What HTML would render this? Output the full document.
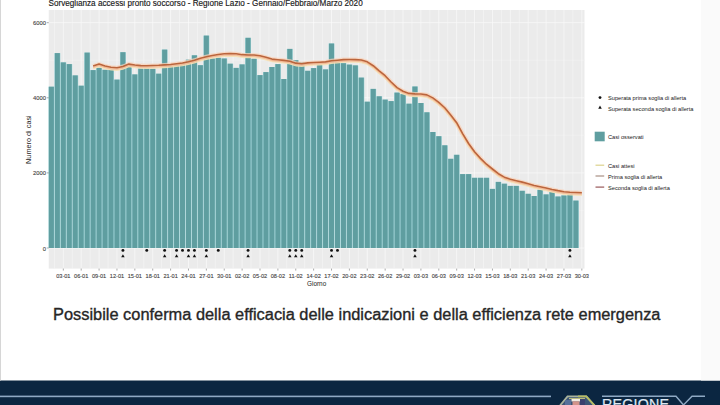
<!DOCTYPE html>
<html><head><meta charset="utf-8"><style>
html,body{margin:0;padding:0;background:#ffffff;}
body{width:720px;height:405px;overflow:hidden;}
svg{display:block;font-family:"Liberation Sans",sans-serif;}
</style></head><body>
<svg width="720" height="405" viewBox="0 0 720 405">
<rect x="48.72" y="10.0" width="535.80" height="258.60" fill="#ebebeb"/>
<line x1="48.72" x2="584.52" y1="210.45" y2="210.45" stroke="#f4f4f4" stroke-width="0.4"/>
<line x1="48.72" x2="584.52" y1="135.35" y2="135.35" stroke="#f4f4f4" stroke-width="0.4"/>
<line x1="48.72" x2="584.52" y1="60.25" y2="60.25" stroke="#f4f4f4" stroke-width="0.4"/>
<line x1="48.72" x2="584.52" y1="248.00" y2="248.00" stroke="#fafafa" stroke-width="0.7"/>
<line x1="48.72" x2="584.52" y1="172.90" y2="172.90" stroke="#fafafa" stroke-width="0.7"/>
<line x1="48.72" x2="584.52" y1="97.80" y2="97.80" stroke="#fafafa" stroke-width="0.7"/>
<line x1="48.72" x2="584.52" y1="22.70" y2="22.70" stroke="#fafafa" stroke-width="0.7"/>
<line y1="10.0" y2="268.6" x1="54.38" x2="54.38" stroke="#f7f7f7" stroke-width="0.6"/>
<line y1="10.0" y2="268.6" x1="72.26" x2="72.26" stroke="#f7f7f7" stroke-width="0.6"/>
<line y1="10.0" y2="268.6" x1="90.14" x2="90.14" stroke="#f7f7f7" stroke-width="0.6"/>
<line y1="10.0" y2="268.6" x1="108.02" x2="108.02" stroke="#f7f7f7" stroke-width="0.6"/>
<line y1="10.0" y2="268.6" x1="125.90" x2="125.90" stroke="#f7f7f7" stroke-width="0.6"/>
<line y1="10.0" y2="268.6" x1="143.78" x2="143.78" stroke="#f7f7f7" stroke-width="0.6"/>
<line y1="10.0" y2="268.6" x1="161.66" x2="161.66" stroke="#f7f7f7" stroke-width="0.6"/>
<line y1="10.0" y2="268.6" x1="179.54" x2="179.54" stroke="#f7f7f7" stroke-width="0.6"/>
<line y1="10.0" y2="268.6" x1="197.42" x2="197.42" stroke="#f7f7f7" stroke-width="0.6"/>
<line y1="10.0" y2="268.6" x1="215.30" x2="215.30" stroke="#f7f7f7" stroke-width="0.6"/>
<line y1="10.0" y2="268.6" x1="233.18" x2="233.18" stroke="#f7f7f7" stroke-width="0.6"/>
<line y1="10.0" y2="268.6" x1="251.06" x2="251.06" stroke="#f7f7f7" stroke-width="0.6"/>
<line y1="10.0" y2="268.6" x1="268.94" x2="268.94" stroke="#f7f7f7" stroke-width="0.6"/>
<line y1="10.0" y2="268.6" x1="286.82" x2="286.82" stroke="#f7f7f7" stroke-width="0.6"/>
<line y1="10.0" y2="268.6" x1="304.70" x2="304.70" stroke="#f7f7f7" stroke-width="0.6"/>
<line y1="10.0" y2="268.6" x1="322.58" x2="322.58" stroke="#f7f7f7" stroke-width="0.6"/>
<line y1="10.0" y2="268.6" x1="340.46" x2="340.46" stroke="#f7f7f7" stroke-width="0.6"/>
<line y1="10.0" y2="268.6" x1="358.34" x2="358.34" stroke="#f7f7f7" stroke-width="0.6"/>
<line y1="10.0" y2="268.6" x1="376.22" x2="376.22" stroke="#f7f7f7" stroke-width="0.6"/>
<line y1="10.0" y2="268.6" x1="394.10" x2="394.10" stroke="#f7f7f7" stroke-width="0.6"/>
<line y1="10.0" y2="268.6" x1="411.98" x2="411.98" stroke="#f7f7f7" stroke-width="0.6"/>
<line y1="10.0" y2="268.6" x1="429.86" x2="429.86" stroke="#f7f7f7" stroke-width="0.6"/>
<line y1="10.0" y2="268.6" x1="447.74" x2="447.74" stroke="#f7f7f7" stroke-width="0.6"/>
<line y1="10.0" y2="268.6" x1="465.62" x2="465.62" stroke="#f7f7f7" stroke-width="0.6"/>
<line y1="10.0" y2="268.6" x1="483.50" x2="483.50" stroke="#f7f7f7" stroke-width="0.6"/>
<line y1="10.0" y2="268.6" x1="501.38" x2="501.38" stroke="#f7f7f7" stroke-width="0.6"/>
<line y1="10.0" y2="268.6" x1="519.26" x2="519.26" stroke="#f7f7f7" stroke-width="0.6"/>
<line y1="10.0" y2="268.6" x1="537.14" x2="537.14" stroke="#f7f7f7" stroke-width="0.6"/>
<line y1="10.0" y2="268.6" x1="555.02" x2="555.02" stroke="#f7f7f7" stroke-width="0.6"/>
<line y1="10.0" y2="268.6" x1="572.90" x2="572.90" stroke="#f7f7f7" stroke-width="0.6"/>
<line y1="10.0" y2="268.6" x1="63.32" x2="63.32" stroke="#fafafa" stroke-width="0.7"/>
<line y1="10.0" y2="268.6" x1="81.20" x2="81.20" stroke="#fafafa" stroke-width="0.7"/>
<line y1="10.0" y2="268.6" x1="99.08" x2="99.08" stroke="#fafafa" stroke-width="0.7"/>
<line y1="10.0" y2="268.6" x1="116.96" x2="116.96" stroke="#fafafa" stroke-width="0.7"/>
<line y1="10.0" y2="268.6" x1="134.84" x2="134.84" stroke="#fafafa" stroke-width="0.7"/>
<line y1="10.0" y2="268.6" x1="152.72" x2="152.72" stroke="#fafafa" stroke-width="0.7"/>
<line y1="10.0" y2="268.6" x1="170.60" x2="170.60" stroke="#fafafa" stroke-width="0.7"/>
<line y1="10.0" y2="268.6" x1="188.48" x2="188.48" stroke="#fafafa" stroke-width="0.7"/>
<line y1="10.0" y2="268.6" x1="206.36" x2="206.36" stroke="#fafafa" stroke-width="0.7"/>
<line y1="10.0" y2="268.6" x1="224.24" x2="224.24" stroke="#fafafa" stroke-width="0.7"/>
<line y1="10.0" y2="268.6" x1="242.12" x2="242.12" stroke="#fafafa" stroke-width="0.7"/>
<line y1="10.0" y2="268.6" x1="260.00" x2="260.00" stroke="#fafafa" stroke-width="0.7"/>
<line y1="10.0" y2="268.6" x1="277.88" x2="277.88" stroke="#fafafa" stroke-width="0.7"/>
<line y1="10.0" y2="268.6" x1="295.76" x2="295.76" stroke="#fafafa" stroke-width="0.7"/>
<line y1="10.0" y2="268.6" x1="313.64" x2="313.64" stroke="#fafafa" stroke-width="0.7"/>
<line y1="10.0" y2="268.6" x1="331.52" x2="331.52" stroke="#fafafa" stroke-width="0.7"/>
<line y1="10.0" y2="268.6" x1="349.40" x2="349.40" stroke="#fafafa" stroke-width="0.7"/>
<line y1="10.0" y2="268.6" x1="367.28" x2="367.28" stroke="#fafafa" stroke-width="0.7"/>
<line y1="10.0" y2="268.6" x1="385.16" x2="385.16" stroke="#fafafa" stroke-width="0.7"/>
<line y1="10.0" y2="268.6" x1="403.04" x2="403.04" stroke="#fafafa" stroke-width="0.7"/>
<line y1="10.0" y2="268.6" x1="420.92" x2="420.92" stroke="#fafafa" stroke-width="0.7"/>
<line y1="10.0" y2="268.6" x1="438.80" x2="438.80" stroke="#fafafa" stroke-width="0.7"/>
<line y1="10.0" y2="268.6" x1="456.68" x2="456.68" stroke="#fafafa" stroke-width="0.7"/>
<line y1="10.0" y2="268.6" x1="474.56" x2="474.56" stroke="#fafafa" stroke-width="0.7"/>
<line y1="10.0" y2="268.6" x1="492.44" x2="492.44" stroke="#fafafa" stroke-width="0.7"/>
<line y1="10.0" y2="268.6" x1="510.32" x2="510.32" stroke="#fafafa" stroke-width="0.7"/>
<line y1="10.0" y2="268.6" x1="528.20" x2="528.20" stroke="#fafafa" stroke-width="0.7"/>
<line y1="10.0" y2="268.6" x1="546.08" x2="546.08" stroke="#fafafa" stroke-width="0.7"/>
<line y1="10.0" y2="268.6" x1="563.96" x2="563.96" stroke="#fafafa" stroke-width="0.7"/>
<line y1="10.0" y2="268.6" x1="581.84" x2="581.84" stroke="#fafafa" stroke-width="0.7"/>
<rect x="48.42" y="86.70" width="5.96" height="161.30" fill="#a2d6da"/>
<rect x="54.38" y="53.10" width="5.96" height="194.90" fill="#a2d6da"/>
<rect x="60.34" y="62.40" width="5.96" height="185.60" fill="#a2d6da"/>
<rect x="66.30" y="64.10" width="5.96" height="183.90" fill="#a2d6da"/>
<rect x="72.26" y="75.40" width="5.96" height="172.60" fill="#a2d6da"/>
<rect x="78.22" y="85.70" width="5.96" height="162.30" fill="#a2d6da"/>
<rect x="84.18" y="52.60" width="5.96" height="195.40" fill="#a2d6da"/>
<rect x="90.14" y="70.10" width="5.96" height="177.90" fill="#a2d6da"/>
<rect x="96.10" y="67.80" width="5.96" height="180.20" fill="#a2d6da"/>
<rect x="102.06" y="69.80" width="5.96" height="178.20" fill="#a2d6da"/>
<rect x="108.02" y="69.50" width="5.96" height="178.50" fill="#a2d6da"/>
<rect x="113.98" y="79.60" width="5.96" height="168.40" fill="#a2d6da"/>
<rect x="119.94" y="52.20" width="5.96" height="195.80" fill="#a2d6da"/>
<rect x="125.90" y="66.30" width="5.96" height="181.70" fill="#a2d6da"/>
<rect x="131.86" y="74.40" width="5.96" height="173.60" fill="#a2d6da"/>
<rect x="137.82" y="68.50" width="5.96" height="179.50" fill="#a2d6da"/>
<rect x="143.78" y="68.20" width="5.96" height="179.80" fill="#a2d6da"/>
<rect x="149.74" y="68.80" width="5.96" height="179.20" fill="#a2d6da"/>
<rect x="155.70" y="73.70" width="5.96" height="174.30" fill="#a2d6da"/>
<rect x="161.66" y="49.60" width="5.96" height="198.40" fill="#a2d6da"/>
<rect x="167.62" y="64.00" width="5.96" height="184.00" fill="#a2d6da"/>
<rect x="173.58" y="64.40" width="5.96" height="183.60" fill="#a2d6da"/>
<rect x="179.54" y="63.00" width="5.96" height="185.00" fill="#a2d6da"/>
<rect x="185.50" y="59.70" width="5.96" height="188.30" fill="#a2d6da"/>
<rect x="191.46" y="55.30" width="5.96" height="192.70" fill="#a2d6da"/>
<rect x="197.42" y="65.20" width="5.96" height="182.80" fill="#a2d6da"/>
<rect x="203.38" y="35.60" width="5.96" height="212.40" fill="#a2d6da"/>
<rect x="209.34" y="58.50" width="5.96" height="189.50" fill="#a2d6da"/>
<rect x="215.30" y="57.80" width="5.96" height="190.20" fill="#a2d6da"/>
<rect x="221.26" y="58.50" width="5.96" height="189.50" fill="#a2d6da"/>
<rect x="227.22" y="63.70" width="5.96" height="184.30" fill="#a2d6da"/>
<rect x="233.18" y="67.90" width="5.96" height="180.10" fill="#a2d6da"/>
<rect x="239.14" y="64.40" width="5.96" height="183.60" fill="#a2d6da"/>
<rect x="245.10" y="37.80" width="5.96" height="210.20" fill="#a2d6da"/>
<rect x="251.06" y="58.80" width="5.96" height="189.20" fill="#a2d6da"/>
<rect x="257.02" y="75.10" width="5.96" height="172.90" fill="#a2d6da"/>
<rect x="262.98" y="72.10" width="5.96" height="175.90" fill="#a2d6da"/>
<rect x="268.94" y="67.00" width="5.96" height="181.00" fill="#a2d6da"/>
<rect x="274.90" y="64.10" width="5.96" height="183.90" fill="#a2d6da"/>
<rect x="280.86" y="79.00" width="5.96" height="169.00" fill="#a2d6da"/>
<rect x="286.82" y="48.90" width="5.96" height="199.10" fill="#a2d6da"/>
<rect x="292.78" y="60.20" width="5.96" height="187.80" fill="#a2d6da"/>
<rect x="298.74" y="62.20" width="5.96" height="185.80" fill="#a2d6da"/>
<rect x="304.70" y="70.80" width="5.96" height="177.20" fill="#a2d6da"/>
<rect x="310.66" y="68.10" width="5.96" height="179.90" fill="#a2d6da"/>
<rect x="316.62" y="64.50" width="5.96" height="183.50" fill="#a2d6da"/>
<rect x="322.58" y="69.40" width="5.96" height="178.60" fill="#a2d6da"/>
<rect x="328.54" y="43.50" width="5.96" height="204.50" fill="#a2d6da"/>
<rect x="334.50" y="61.70" width="5.96" height="186.30" fill="#a2d6da"/>
<rect x="340.46" y="63.20" width="5.96" height="184.80" fill="#a2d6da"/>
<rect x="346.42" y="64.60" width="5.96" height="183.40" fill="#a2d6da"/>
<rect x="352.38" y="65.40" width="5.96" height="182.60" fill="#a2d6da"/>
<rect x="358.34" y="77.60" width="5.96" height="170.40" fill="#a2d6da"/>
<rect x="364.30" y="101.70" width="5.96" height="146.30" fill="#a2d6da"/>
<rect x="370.26" y="88.90" width="5.96" height="159.10" fill="#a2d6da"/>
<rect x="376.22" y="96.30" width="5.96" height="151.70" fill="#a2d6da"/>
<rect x="382.18" y="99.60" width="5.96" height="148.40" fill="#a2d6da"/>
<rect x="388.14" y="101.10" width="5.96" height="146.90" fill="#a2d6da"/>
<rect x="394.10" y="92.60" width="5.96" height="155.40" fill="#a2d6da"/>
<rect x="400.06" y="94.20" width="5.96" height="153.80" fill="#a2d6da"/>
<rect x="406.02" y="103.70" width="5.96" height="144.30" fill="#a2d6da"/>
<rect x="411.98" y="86.50" width="5.96" height="161.50" fill="#a2d6da"/>
<rect x="417.94" y="103.00" width="5.96" height="145.00" fill="#a2d6da"/>
<rect x="423.90" y="112.30" width="5.96" height="135.70" fill="#a2d6da"/>
<rect x="429.86" y="132.00" width="5.96" height="116.00" fill="#a2d6da"/>
<rect x="435.82" y="136.20" width="5.96" height="111.80" fill="#a2d6da"/>
<rect x="441.78" y="145.30" width="5.96" height="102.70" fill="#a2d6da"/>
<rect x="447.74" y="158.80" width="5.96" height="89.20" fill="#a2d6da"/>
<rect x="453.70" y="154.80" width="5.96" height="93.20" fill="#a2d6da"/>
<rect x="459.66" y="174.10" width="5.96" height="73.90" fill="#a2d6da"/>
<rect x="465.62" y="174.10" width="5.96" height="73.90" fill="#a2d6da"/>
<rect x="471.58" y="177.80" width="5.96" height="70.20" fill="#a2d6da"/>
<rect x="477.54" y="177.80" width="5.96" height="70.20" fill="#a2d6da"/>
<rect x="483.50" y="177.80" width="5.96" height="70.20" fill="#a2d6da"/>
<rect x="489.46" y="188.90" width="5.96" height="59.10" fill="#a2d6da"/>
<rect x="495.42" y="181.90" width="5.96" height="66.10" fill="#a2d6da"/>
<rect x="501.38" y="183.70" width="5.96" height="64.30" fill="#a2d6da"/>
<rect x="507.34" y="185.90" width="5.96" height="62.10" fill="#a2d6da"/>
<rect x="513.30" y="185.90" width="5.96" height="62.10" fill="#a2d6da"/>
<rect x="519.26" y="190.80" width="5.96" height="57.20" fill="#a2d6da"/>
<rect x="525.22" y="193.80" width="5.96" height="54.20" fill="#a2d6da"/>
<rect x="531.18" y="196.00" width="5.96" height="52.00" fill="#a2d6da"/>
<rect x="537.14" y="189.80" width="5.96" height="58.20" fill="#a2d6da"/>
<rect x="543.10" y="194.40" width="5.96" height="53.60" fill="#a2d6da"/>
<rect x="549.06" y="191.90" width="5.96" height="56.10" fill="#a2d6da"/>
<rect x="555.02" y="196.50" width="5.96" height="51.50" fill="#a2d6da"/>
<rect x="560.98" y="195.50" width="5.96" height="52.50" fill="#a2d6da"/>
<rect x="566.94" y="193.50" width="5.96" height="54.50" fill="#a2d6da"/>
<rect x="572.90" y="200.60" width="5.96" height="47.40" fill="#a2d6da"/>
<rect x="48.90" y="86.70" width="5.0" height="161.30" fill="#5f9ea0"/>
<rect x="54.86" y="53.10" width="5.0" height="194.90" fill="#5f9ea0"/>
<rect x="60.82" y="62.40" width="5.0" height="185.60" fill="#5f9ea0"/>
<rect x="66.78" y="64.10" width="5.0" height="183.90" fill="#5f9ea0"/>
<rect x="72.74" y="75.40" width="5.0" height="172.60" fill="#5f9ea0"/>
<rect x="78.70" y="85.70" width="5.0" height="162.30" fill="#5f9ea0"/>
<rect x="84.66" y="52.60" width="5.0" height="195.40" fill="#5f9ea0"/>
<rect x="90.62" y="70.10" width="5.0" height="177.90" fill="#5f9ea0"/>
<rect x="96.58" y="67.80" width="5.0" height="180.20" fill="#5f9ea0"/>
<rect x="102.54" y="69.80" width="5.0" height="178.20" fill="#5f9ea0"/>
<rect x="108.50" y="69.50" width="5.0" height="178.50" fill="#5f9ea0"/>
<rect x="114.46" y="79.60" width="5.0" height="168.40" fill="#5f9ea0"/>
<rect x="120.42" y="52.20" width="5.0" height="195.80" fill="#5f9ea0"/>
<rect x="126.38" y="66.30" width="5.0" height="181.70" fill="#5f9ea0"/>
<rect x="132.34" y="74.40" width="5.0" height="173.60" fill="#5f9ea0"/>
<rect x="138.30" y="68.50" width="5.0" height="179.50" fill="#5f9ea0"/>
<rect x="144.26" y="68.20" width="5.0" height="179.80" fill="#5f9ea0"/>
<rect x="150.22" y="68.80" width="5.0" height="179.20" fill="#5f9ea0"/>
<rect x="156.18" y="73.70" width="5.0" height="174.30" fill="#5f9ea0"/>
<rect x="162.14" y="49.60" width="5.0" height="198.40" fill="#5f9ea0"/>
<rect x="168.10" y="64.00" width="5.0" height="184.00" fill="#5f9ea0"/>
<rect x="174.06" y="64.40" width="5.0" height="183.60" fill="#5f9ea0"/>
<rect x="180.02" y="63.00" width="5.0" height="185.00" fill="#5f9ea0"/>
<rect x="185.98" y="59.70" width="5.0" height="188.30" fill="#5f9ea0"/>
<rect x="191.94" y="55.30" width="5.0" height="192.70" fill="#5f9ea0"/>
<rect x="197.90" y="65.20" width="5.0" height="182.80" fill="#5f9ea0"/>
<rect x="203.86" y="35.60" width="5.0" height="212.40" fill="#5f9ea0"/>
<rect x="209.82" y="58.50" width="5.0" height="189.50" fill="#5f9ea0"/>
<rect x="215.78" y="57.80" width="5.0" height="190.20" fill="#5f9ea0"/>
<rect x="221.74" y="58.50" width="5.0" height="189.50" fill="#5f9ea0"/>
<rect x="227.70" y="63.70" width="5.0" height="184.30" fill="#5f9ea0"/>
<rect x="233.66" y="67.90" width="5.0" height="180.10" fill="#5f9ea0"/>
<rect x="239.62" y="64.40" width="5.0" height="183.60" fill="#5f9ea0"/>
<rect x="245.58" y="37.80" width="5.0" height="210.20" fill="#5f9ea0"/>
<rect x="251.54" y="58.80" width="5.0" height="189.20" fill="#5f9ea0"/>
<rect x="257.50" y="75.10" width="5.0" height="172.90" fill="#5f9ea0"/>
<rect x="263.46" y="72.10" width="5.0" height="175.90" fill="#5f9ea0"/>
<rect x="269.42" y="67.00" width="5.0" height="181.00" fill="#5f9ea0"/>
<rect x="275.38" y="64.10" width="5.0" height="183.90" fill="#5f9ea0"/>
<rect x="281.34" y="79.00" width="5.0" height="169.00" fill="#5f9ea0"/>
<rect x="287.30" y="48.90" width="5.0" height="199.10" fill="#5f9ea0"/>
<rect x="293.26" y="60.20" width="5.0" height="187.80" fill="#5f9ea0"/>
<rect x="299.22" y="62.20" width="5.0" height="185.80" fill="#5f9ea0"/>
<rect x="305.18" y="70.80" width="5.0" height="177.20" fill="#5f9ea0"/>
<rect x="311.14" y="68.10" width="5.0" height="179.90" fill="#5f9ea0"/>
<rect x="317.10" y="64.50" width="5.0" height="183.50" fill="#5f9ea0"/>
<rect x="323.06" y="69.40" width="5.0" height="178.60" fill="#5f9ea0"/>
<rect x="329.02" y="43.50" width="5.0" height="204.50" fill="#5f9ea0"/>
<rect x="334.98" y="61.70" width="5.0" height="186.30" fill="#5f9ea0"/>
<rect x="340.94" y="63.20" width="5.0" height="184.80" fill="#5f9ea0"/>
<rect x="346.90" y="64.60" width="5.0" height="183.40" fill="#5f9ea0"/>
<rect x="352.86" y="65.40" width="5.0" height="182.60" fill="#5f9ea0"/>
<rect x="358.82" y="77.60" width="5.0" height="170.40" fill="#5f9ea0"/>
<rect x="364.78" y="101.70" width="5.0" height="146.30" fill="#5f9ea0"/>
<rect x="370.74" y="88.90" width="5.0" height="159.10" fill="#5f9ea0"/>
<rect x="376.70" y="96.30" width="5.0" height="151.70" fill="#5f9ea0"/>
<rect x="382.66" y="99.60" width="5.0" height="148.40" fill="#5f9ea0"/>
<rect x="388.62" y="101.10" width="5.0" height="146.90" fill="#5f9ea0"/>
<rect x="394.58" y="92.60" width="5.0" height="155.40" fill="#5f9ea0"/>
<rect x="400.54" y="94.20" width="5.0" height="153.80" fill="#5f9ea0"/>
<rect x="406.50" y="103.70" width="5.0" height="144.30" fill="#5f9ea0"/>
<rect x="412.46" y="86.50" width="5.0" height="161.50" fill="#5f9ea0"/>
<rect x="418.42" y="103.00" width="5.0" height="145.00" fill="#5f9ea0"/>
<rect x="424.38" y="112.30" width="5.0" height="135.70" fill="#5f9ea0"/>
<rect x="430.34" y="132.00" width="5.0" height="116.00" fill="#5f9ea0"/>
<rect x="436.30" y="136.20" width="5.0" height="111.80" fill="#5f9ea0"/>
<rect x="442.26" y="145.30" width="5.0" height="102.70" fill="#5f9ea0"/>
<rect x="448.22" y="158.80" width="5.0" height="89.20" fill="#5f9ea0"/>
<rect x="454.18" y="154.80" width="5.0" height="93.20" fill="#5f9ea0"/>
<rect x="460.14" y="174.10" width="5.0" height="73.90" fill="#5f9ea0"/>
<rect x="466.10" y="174.10" width="5.0" height="73.90" fill="#5f9ea0"/>
<rect x="472.06" y="177.80" width="5.0" height="70.20" fill="#5f9ea0"/>
<rect x="478.02" y="177.80" width="5.0" height="70.20" fill="#5f9ea0"/>
<rect x="483.98" y="177.80" width="5.0" height="70.20" fill="#5f9ea0"/>
<rect x="489.94" y="188.90" width="5.0" height="59.10" fill="#5f9ea0"/>
<rect x="495.90" y="181.90" width="5.0" height="66.10" fill="#5f9ea0"/>
<rect x="501.86" y="183.70" width="5.0" height="64.30" fill="#5f9ea0"/>
<rect x="507.82" y="185.90" width="5.0" height="62.10" fill="#5f9ea0"/>
<rect x="513.78" y="185.90" width="5.0" height="62.10" fill="#5f9ea0"/>
<rect x="519.74" y="190.80" width="5.0" height="57.20" fill="#5f9ea0"/>
<rect x="525.70" y="193.80" width="5.0" height="54.20" fill="#5f9ea0"/>
<rect x="531.66" y="196.00" width="5.0" height="52.00" fill="#5f9ea0"/>
<rect x="537.62" y="189.80" width="5.0" height="58.20" fill="#5f9ea0"/>
<rect x="543.58" y="194.40" width="5.0" height="53.60" fill="#5f9ea0"/>
<rect x="549.54" y="191.90" width="5.0" height="56.10" fill="#5f9ea0"/>
<rect x="555.50" y="196.50" width="5.0" height="51.50" fill="#5f9ea0"/>
<rect x="561.46" y="195.50" width="5.0" height="52.50" fill="#5f9ea0"/>
<rect x="567.42" y="193.50" width="5.0" height="54.50" fill="#5f9ea0"/>
<rect x="573.38" y="200.60" width="5.0" height="47.40" fill="#5f9ea0"/>
<path d="M93.12,66.40 L99.08,64.31 L105.04,66.34 L111.00,67.48 L116.96,67.99 L122.92,66.84 L128.88,64.39 L134.84,65.30 L140.80,65.92 L146.76,65.98 L152.72,65.86 L158.68,65.62 L164.64,65.20 L170.60,64.75 L176.56,64.06 L182.52,63.26 L188.48,62.08 L194.44,60.58 L200.40,58.51 L206.36,57.11 L212.32,55.80 L218.28,54.84 L224.24,54.11 L230.20,53.84 L236.16,54.11 L242.12,54.97 L248.08,55.30 L254.04,55.30 L260.00,56.03 L265.96,57.63 L271.92,59.39 L277.88,60.01 L283.84,60.64 L289.80,61.47 L295.76,63.45 L301.72,63.99 L307.68,63.20 L313.64,62.80 L319.60,62.50 L325.56,62.19 L331.52,60.99 L337.48,60.48 L343.44,59.89 L349.40,59.85 L355.36,59.92 L361.32,60.24 L367.28,62.10 L373.24,66.02 L379.20,71.17 L385.16,76.04 L391.12,82.32 L397.08,87.93 L403.04,91.52 L409.00,93.71 L414.96,94.20 L420.92,94.34 L426.88,95.14 L432.84,98.20 L438.80,102.67 L444.76,108.06 L450.72,115.22 L456.68,122.99 L462.64,133.85 L468.60,143.82 L474.56,152.08 L480.52,158.64 L486.48,164.54 L492.44,169.30 L498.40,174.03 L504.36,177.45 L510.32,179.63 L516.28,181.08 L522.24,182.43 L528.20,184.12 L534.16,185.79 L540.12,187.10 L546.08,188.35 L552.04,189.72 L558.00,190.93 L563.96,191.99 L569.92,192.62 L575.88,192.75 L581.84,193.10" fill="none" stroke="#f9d2b8" stroke-width="4.6" stroke-linejoin="round" opacity="0.75"/>
<path d="M93.12,68.70 L99.08,66.61 L105.04,68.64 L111.00,69.78 L116.96,70.29 L122.92,69.14 L128.88,66.69 L134.84,67.60 L140.80,68.22 L146.76,68.28 L152.72,68.16 L158.68,67.92 L164.64,67.50 L170.60,67.05 L176.56,66.36 L182.52,65.56 L188.48,64.38 L194.44,62.88 L200.40,60.81 L206.36,59.41 L212.32,58.10 L218.28,57.14 L224.24,56.41 L230.20,56.14 L236.16,56.41 L242.12,57.27 L248.08,57.60 L254.04,57.60 L260.00,58.33 L265.96,59.93 L271.92,61.69 L277.88,62.31 L283.84,62.94 L289.80,63.77 L295.76,65.75 L301.72,66.29 L307.68,65.50 L313.64,65.10 L319.60,64.80 L325.56,64.49 L331.52,63.29 L337.48,62.78 L343.44,62.19 L349.40,62.15 L355.36,62.22 L361.32,62.54 L367.28,64.40 L373.24,68.32 L379.20,73.47 L385.16,78.34 L391.12,84.62 L397.08,90.23 L403.04,93.82 L409.00,96.01 L414.96,96.50 L420.92,96.64 L426.88,97.44 L432.84,100.50 L438.80,104.97 L444.76,110.36 L450.72,117.52 L456.68,125.29 L462.64,136.15 L468.60,146.12 L474.56,154.38 L480.52,160.94 L486.48,166.84 L492.44,171.60 L498.40,176.33 L504.36,179.75 L510.32,181.93 L516.28,183.38 L522.24,184.73 L528.20,186.42 L534.16,188.09 L540.12,189.40 L546.08,190.65 L552.04,192.02 L558.00,193.23 L563.96,194.29 L569.92,194.92 L575.88,195.05 L581.84,195.40" fill="none" stroke="#f6e2b4" stroke-width="1.3" stroke-linejoin="round" opacity="0.85"/>
<path d="M93.12,67.50 L99.08,65.41 L105.04,67.44 L111.00,68.58 L116.96,69.09 L122.92,67.94 L128.88,65.49 L134.84,66.40 L140.80,67.02 L146.76,67.08 L152.72,66.96 L158.68,66.72 L164.64,66.30 L170.60,65.85 L176.56,65.16 L182.52,64.36 L188.48,63.18 L194.44,61.68 L200.40,59.61 L206.36,58.21 L212.32,56.90 L218.28,55.94 L224.24,55.21 L230.20,54.94 L236.16,55.21 L242.12,56.07 L248.08,56.40 L254.04,56.40 L260.00,57.13 L265.96,58.73 L271.92,60.49 L277.88,61.11 L283.84,61.74 L289.80,62.57 L295.76,64.55 L301.72,65.09 L307.68,64.30 L313.64,63.90 L319.60,63.60 L325.56,63.29 L331.52,62.09 L337.48,61.58 L343.44,60.99 L349.40,60.95 L355.36,61.02 L361.32,61.34 L367.28,63.20 L373.24,67.12 L379.20,72.27 L385.16,77.14 L391.12,83.42 L397.08,89.03 L403.04,92.62 L409.00,94.81 L414.96,95.30 L420.92,95.44 L426.88,96.24 L432.84,99.30 L438.80,103.77 L444.76,109.16 L450.72,116.32 L456.68,124.09 L462.64,134.95 L468.60,144.92 L474.56,153.18 L480.52,159.74 L486.48,165.64 L492.44,170.40 L498.40,175.13 L504.36,178.55 L510.32,180.73 L516.28,182.18 L522.24,183.53 L528.20,185.22 L534.16,186.89 L540.12,188.20 L546.08,189.45 L552.04,190.82 L558.00,192.03 L563.96,193.09 L569.92,193.72 L575.88,193.85 L581.84,194.20" fill="none" stroke="#f3bc98" stroke-width="1.3" stroke-linejoin="round"/>
<path d="M93.12,66.10 L99.08,64.01 L105.04,66.04 L111.00,67.18 L116.96,67.69 L122.92,66.54 L128.88,64.09 L134.84,65.00 L140.80,65.62 L146.76,65.68 L152.72,65.56 L158.68,65.32 L164.64,64.90 L170.60,64.45 L176.56,63.76 L182.52,62.96 L188.48,61.78 L194.44,60.28 L200.40,58.21 L206.36,56.81 L212.32,55.50 L218.28,54.54 L224.24,53.81 L230.20,53.54 L236.16,53.81 L242.12,54.67 L248.08,55.00 L254.04,55.00 L260.00,55.73 L265.96,57.33 L271.92,59.09 L277.88,59.71 L283.84,60.34 L289.80,61.17 L295.76,63.15 L301.72,63.69 L307.68,62.90 L313.64,62.50 L319.60,62.20 L325.56,61.89 L331.52,60.69 L337.48,60.18 L343.44,59.59 L349.40,59.55 L355.36,59.62 L361.32,59.94 L367.28,61.80 L373.24,65.72 L379.20,70.87 L385.16,75.74 L391.12,82.02 L397.08,87.63 L403.04,91.22 L409.00,93.41 L414.96,93.90 L420.92,94.04 L426.88,94.84 L432.84,97.90 L438.80,102.37 L444.76,107.76 L450.72,114.92 L456.68,122.69 L462.64,133.55 L468.60,143.52 L474.56,151.78 L480.52,158.34 L486.48,164.24 L492.44,169.00 L498.40,173.73 L504.36,177.15 L510.32,179.33 L516.28,180.78 L522.24,182.13 L528.20,183.82 L534.16,185.49 L540.12,186.80 L546.08,188.05 L552.04,189.42 L558.00,190.63 L563.96,191.69 L569.92,192.32 L575.88,192.45 L581.84,192.80" fill="none" stroke="#bb653c" stroke-width="1.6" stroke-linejoin="round"/>
<circle cx="122.92" cy="250.4" r="1.45" fill="#111"/>
<circle cx="146.76" cy="250.4" r="1.45" fill="#111"/>
<circle cx="164.64" cy="250.4" r="1.45" fill="#111"/>
<circle cx="176.56" cy="250.4" r="1.45" fill="#111"/>
<circle cx="182.52" cy="250.4" r="1.45" fill="#111"/>
<circle cx="188.48" cy="250.4" r="1.45" fill="#111"/>
<circle cx="194.44" cy="250.4" r="1.45" fill="#111"/>
<circle cx="206.36" cy="250.4" r="1.45" fill="#111"/>
<circle cx="218.28" cy="250.4" r="1.45" fill="#111"/>
<circle cx="248.08" cy="250.4" r="1.45" fill="#111"/>
<circle cx="289.80" cy="250.4" r="1.45" fill="#111"/>
<circle cx="295.76" cy="250.4" r="1.45" fill="#111"/>
<circle cx="301.72" cy="250.4" r="1.45" fill="#111"/>
<circle cx="331.52" cy="250.4" r="1.45" fill="#111"/>
<circle cx="337.48" cy="250.4" r="1.45" fill="#111"/>
<circle cx="414.96" cy="250.4" r="1.45" fill="#111"/>
<circle cx="569.92" cy="250.4" r="1.45" fill="#111"/>
<path d="M122.92,254.30 L124.67,257.30 L121.17,257.30 Z" fill="#111"/>
<path d="M164.64,254.30 L166.39,257.30 L162.89,257.30 Z" fill="#111"/>
<path d="M176.56,254.30 L178.31,257.30 L174.81,257.30 Z" fill="#111"/>
<path d="M188.48,254.30 L190.23,257.30 L186.73,257.30 Z" fill="#111"/>
<path d="M194.44,254.30 L196.19,257.30 L192.69,257.30 Z" fill="#111"/>
<path d="M206.36,254.30 L208.11,257.30 L204.61,257.30 Z" fill="#111"/>
<path d="M248.08,254.30 L249.83,257.30 L246.33,257.30 Z" fill="#111"/>
<path d="M289.80,254.30 L291.55,257.30 L288.05,257.30 Z" fill="#111"/>
<path d="M295.76,254.30 L297.51,257.30 L294.01,257.30 Z" fill="#111"/>
<path d="M301.72,254.30 L303.47,257.30 L299.97,257.30 Z" fill="#111"/>
<path d="M331.52,254.30 L333.27,257.30 L329.77,257.30 Z" fill="#111"/>
<path d="M414.96,254.30 L416.71,257.30 L413.21,257.30 Z" fill="#111"/>
<path d="M569.92,254.30 L571.67,257.30 L568.17,257.30 Z" fill="#111"/>
<line x1="46.72" x2="48.72" y1="248.00" y2="248.00" stroke="#555" stroke-width="0.5"/>
<text x="45.92" y="250.70" text-anchor="end" font-size="5.8" fill="#444" stroke="#444" stroke-width="0.12">0</text>
<line x1="46.72" x2="48.72" y1="172.90" y2="172.90" stroke="#555" stroke-width="0.5"/>
<text x="45.92" y="175.44" text-anchor="end" font-size="5.8" fill="#444" stroke="#444" stroke-width="0.12">2000</text>
<line x1="46.72" x2="48.72" y1="97.80" y2="97.80" stroke="#555" stroke-width="0.5"/>
<text x="45.92" y="100.18" text-anchor="end" font-size="5.8" fill="#444" stroke="#444" stroke-width="0.12">4000</text>
<line x1="46.72" x2="48.72" y1="22.70" y2="22.70" stroke="#555" stroke-width="0.5"/>
<text x="45.92" y="24.92" text-anchor="end" font-size="5.8" fill="#444" stroke="#444" stroke-width="0.12">6000</text>
<line x1="63.32" x2="63.32" y1="268.60" y2="270.60" stroke="#555" stroke-width="0.5"/>
<text x="63.32" y="277.60" text-anchor="middle" font-size="5.6" fill="#444" stroke="#444" stroke-width="0.12">03-01</text>
<line x1="81.20" x2="81.20" y1="268.60" y2="270.60" stroke="#555" stroke-width="0.5"/>
<text x="81.20" y="277.60" text-anchor="middle" font-size="5.6" fill="#444" stroke="#444" stroke-width="0.12">06-01</text>
<line x1="99.08" x2="99.08" y1="268.60" y2="270.60" stroke="#555" stroke-width="0.5"/>
<text x="99.08" y="277.60" text-anchor="middle" font-size="5.6" fill="#444" stroke="#444" stroke-width="0.12">09-01</text>
<line x1="116.96" x2="116.96" y1="268.60" y2="270.60" stroke="#555" stroke-width="0.5"/>
<text x="116.96" y="277.60" text-anchor="middle" font-size="5.6" fill="#444" stroke="#444" stroke-width="0.12">12-01</text>
<line x1="134.84" x2="134.84" y1="268.60" y2="270.60" stroke="#555" stroke-width="0.5"/>
<text x="134.84" y="277.60" text-anchor="middle" font-size="5.6" fill="#444" stroke="#444" stroke-width="0.12">15-01</text>
<line x1="152.72" x2="152.72" y1="268.60" y2="270.60" stroke="#555" stroke-width="0.5"/>
<text x="152.72" y="277.60" text-anchor="middle" font-size="5.6" fill="#444" stroke="#444" stroke-width="0.12">18-01</text>
<line x1="170.60" x2="170.60" y1="268.60" y2="270.60" stroke="#555" stroke-width="0.5"/>
<text x="170.60" y="277.60" text-anchor="middle" font-size="5.6" fill="#444" stroke="#444" stroke-width="0.12">21-01</text>
<line x1="188.48" x2="188.48" y1="268.60" y2="270.60" stroke="#555" stroke-width="0.5"/>
<text x="188.48" y="277.60" text-anchor="middle" font-size="5.6" fill="#444" stroke="#444" stroke-width="0.12">24-01</text>
<line x1="206.36" x2="206.36" y1="268.60" y2="270.60" stroke="#555" stroke-width="0.5"/>
<text x="206.36" y="277.60" text-anchor="middle" font-size="5.6" fill="#444" stroke="#444" stroke-width="0.12">27-01</text>
<line x1="224.24" x2="224.24" y1="268.60" y2="270.60" stroke="#555" stroke-width="0.5"/>
<text x="224.24" y="277.60" text-anchor="middle" font-size="5.6" fill="#444" stroke="#444" stroke-width="0.12">30-01</text>
<line x1="242.12" x2="242.12" y1="268.60" y2="270.60" stroke="#555" stroke-width="0.5"/>
<text x="242.12" y="277.60" text-anchor="middle" font-size="5.6" fill="#444" stroke="#444" stroke-width="0.12">02-02</text>
<line x1="260.00" x2="260.00" y1="268.60" y2="270.60" stroke="#555" stroke-width="0.5"/>
<text x="260.00" y="277.60" text-anchor="middle" font-size="5.6" fill="#444" stroke="#444" stroke-width="0.12">05-02</text>
<line x1="277.88" x2="277.88" y1="268.60" y2="270.60" stroke="#555" stroke-width="0.5"/>
<text x="277.88" y="277.60" text-anchor="middle" font-size="5.6" fill="#444" stroke="#444" stroke-width="0.12">08-02</text>
<line x1="295.76" x2="295.76" y1="268.60" y2="270.60" stroke="#555" stroke-width="0.5"/>
<text x="295.76" y="277.60" text-anchor="middle" font-size="5.6" fill="#444" stroke="#444" stroke-width="0.12">11-02</text>
<line x1="313.64" x2="313.64" y1="268.60" y2="270.60" stroke="#555" stroke-width="0.5"/>
<text x="313.64" y="277.60" text-anchor="middle" font-size="5.6" fill="#444" stroke="#444" stroke-width="0.12">14-02</text>
<line x1="331.52" x2="331.52" y1="268.60" y2="270.60" stroke="#555" stroke-width="0.5"/>
<text x="331.52" y="277.60" text-anchor="middle" font-size="5.6" fill="#444" stroke="#444" stroke-width="0.12">17-02</text>
<line x1="349.40" x2="349.40" y1="268.60" y2="270.60" stroke="#555" stroke-width="0.5"/>
<text x="349.40" y="277.60" text-anchor="middle" font-size="5.6" fill="#444" stroke="#444" stroke-width="0.12">20-02</text>
<line x1="367.28" x2="367.28" y1="268.60" y2="270.60" stroke="#555" stroke-width="0.5"/>
<text x="367.28" y="277.60" text-anchor="middle" font-size="5.6" fill="#444" stroke="#444" stroke-width="0.12">23-02</text>
<line x1="385.16" x2="385.16" y1="268.60" y2="270.60" stroke="#555" stroke-width="0.5"/>
<text x="385.16" y="277.60" text-anchor="middle" font-size="5.6" fill="#444" stroke="#444" stroke-width="0.12">26-02</text>
<line x1="403.04" x2="403.04" y1="268.60" y2="270.60" stroke="#555" stroke-width="0.5"/>
<text x="403.04" y="277.60" text-anchor="middle" font-size="5.6" fill="#444" stroke="#444" stroke-width="0.12">29-02</text>
<line x1="420.92" x2="420.92" y1="268.60" y2="270.60" stroke="#555" stroke-width="0.5"/>
<text x="420.92" y="277.60" text-anchor="middle" font-size="5.6" fill="#444" stroke="#444" stroke-width="0.12">03-03</text>
<line x1="438.80" x2="438.80" y1="268.60" y2="270.60" stroke="#555" stroke-width="0.5"/>
<text x="438.80" y="277.60" text-anchor="middle" font-size="5.6" fill="#444" stroke="#444" stroke-width="0.12">06-03</text>
<line x1="456.68" x2="456.68" y1="268.60" y2="270.60" stroke="#555" stroke-width="0.5"/>
<text x="456.68" y="277.60" text-anchor="middle" font-size="5.6" fill="#444" stroke="#444" stroke-width="0.12">09-03</text>
<line x1="474.56" x2="474.56" y1="268.60" y2="270.60" stroke="#555" stroke-width="0.5"/>
<text x="474.56" y="277.60" text-anchor="middle" font-size="5.6" fill="#444" stroke="#444" stroke-width="0.12">12-03</text>
<line x1="492.44" x2="492.44" y1="268.60" y2="270.60" stroke="#555" stroke-width="0.5"/>
<text x="492.44" y="277.60" text-anchor="middle" font-size="5.6" fill="#444" stroke="#444" stroke-width="0.12">15-03</text>
<line x1="510.32" x2="510.32" y1="268.60" y2="270.60" stroke="#555" stroke-width="0.5"/>
<text x="510.32" y="277.60" text-anchor="middle" font-size="5.6" fill="#444" stroke="#444" stroke-width="0.12">18-03</text>
<line x1="528.20" x2="528.20" y1="268.60" y2="270.60" stroke="#555" stroke-width="0.5"/>
<text x="528.20" y="277.60" text-anchor="middle" font-size="5.6" fill="#444" stroke="#444" stroke-width="0.12">21-03</text>
<line x1="546.08" x2="546.08" y1="268.60" y2="270.60" stroke="#555" stroke-width="0.5"/>
<text x="546.08" y="277.60" text-anchor="middle" font-size="5.6" fill="#444" stroke="#444" stroke-width="0.12">24-03</text>
<line x1="563.96" x2="563.96" y1="268.60" y2="270.60" stroke="#555" stroke-width="0.5"/>
<text x="563.96" y="277.60" text-anchor="middle" font-size="5.6" fill="#444" stroke="#444" stroke-width="0.12">27-03</text>
<line x1="581.84" x2="581.84" y1="268.60" y2="270.60" stroke="#555" stroke-width="0.5"/>
<text x="581.84" y="277.60" text-anchor="middle" font-size="5.6" fill="#444" stroke="#444" stroke-width="0.12">30-03</text>
<text x="316.62" y="285.8" text-anchor="middle" font-size="6.4" fill="#222">Giorno</text>
<text transform="translate(30.9,139.6) rotate(-90)" text-anchor="middle" font-size="7.3" fill="#222">Numero di casi</text>
<text x="48.5" y="5.8" font-size="8.16" fill="#1a1a1a" stroke="#1a1a1a" stroke-width="0.15">Sorveglianza accessi pronto soccorso - Regione Lazio - Gennaio/Febbraio/Marzo 2020</text>
<circle cx="600" cy="97.6" r="1.45" fill="#111"/>
<path d="M600,105.6 L601.75,108.7 L598.25,108.7 Z" fill="#111"/>
<text x="608" y="99.8" font-size="5.68" fill="#222">Superata prima soglia di allerta</text>
<text x="608" y="110.6" font-size="5.68" fill="#222">Superata seconda soglia di allerta</text>
<rect x="594.7" y="131.7" width="10" height="9.6" fill="#5f9ea0"/>
<text x="608" y="139.0" font-size="5.68" fill="#222">Casi osservati</text>
<line x1="595.5" x2="604.2" y1="165.2" y2="165.2" stroke="#dcd28c" stroke-width="1.2"/>
<line x1="595.5" x2="604.2" y1="176.0" y2="176.0" stroke="#a89084" stroke-width="1.2"/>
<line x1="595.5" x2="604.2" y1="187.1" y2="187.1" stroke="#98585a" stroke-width="1.2"/>
<text x="608" y="167.8" font-size="5.68" fill="#222">Casi attesi</text>
<text x="608" y="178.5" font-size="5.68" fill="#222">Prima soglia di allerta</text>
<text x="608" y="189.7" font-size="5.68" fill="#222">Seconda soglia di allerta</text>
<text x="53.0" y="319.6" font-size="16.39" fill="#262626" stroke="#262626" stroke-width="0.35">Possibile conferma della efficacia delle indicazioni e della efficienza rete emergenza</text>
<rect x="0" y="380.5" width="720" height="24.5" fill="#0b2641"/>
<rect x="0" y="395.6" width="551" height="1.6" fill="#8fa9c4"/>
<path d="M602,396.3 L676,396.3 L683.5,405 L692,396.3 L705,396.3" fill="none" stroke="#8fa9c4" stroke-width="1.4"/>
<text x="602.0" y="409.2" font-size="14.3" letter-spacing="0.2" fill="#dde7f2" stroke="#dde7f2" stroke-width="0.2">REGIONE</text>
<path d="M560,405.5 L567.5,396.4 L586.3,396.4 L594.6,405.5" fill="#3c5576" stroke="#a9b39c" stroke-width="1.8"/>
<path d="M578,396.4 L586.3,396.4 L594.6,405.5" fill="none" stroke="#b6bc62" stroke-width="1.8"/>
<line x1="569" x2="585" y1="398.6" y2="398.6" stroke="#c6c47a" stroke-width="1"/>
<rect x="571.5" y="399" width="8.5" height="2.5" fill="#f2ece2"/>
<rect x="572.5" y="401.3" width="7" height="4" fill="#d3948a"/>
<rect x="580" y="399.2" width="5" height="6" fill="#3b3f6e"/>
<rect x="565" y="400" width="6" height="5" fill="#56709a"/>
<rect x="0" y="0" width="1" height="380.5" fill="#d6d6d6"/>
<rect x="701" y="0" width="19" height="380.5" fill="#fafafa"/>
</svg>
</body></html>
